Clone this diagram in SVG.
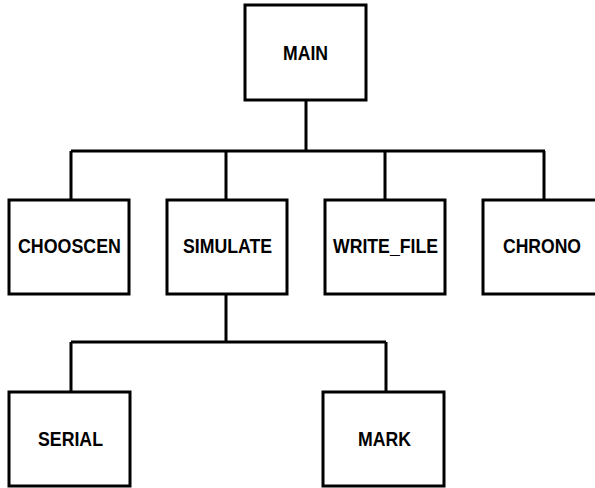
<svg xmlns="http://www.w3.org/2000/svg" width="595" height="488" viewBox="0 0 595 488">
<style>
rect{fill:#fff;stroke:#000;stroke-width:3}
.c path{fill:none;stroke:#000;stroke-width:3}
text{font-family:"Liberation Sans",Arial,sans-serif;font-weight:bold;font-size:21px;text-anchor:middle;fill:#000}
</style>
<rect x="0" y="0" width="595" height="488" style="stroke:none"/>
<g class="c" id="connectors">
<path d="M306 100V151M71 151H545M71 151V200M226 151V200M385 151V200M544 151V200"/>
<path d="M226 294V342M71 342H386M71 342V392M386 342V392"/>
</g>
<g id="main"><rect x="245" y="5" width="121" height="95"/><text x="305.5" y="60" textLength="45" lengthAdjust="spacingAndGlyphs">MAIN</text></g>
<g id="choosen"><rect x="9" y="200" width="120" height="94"/><text x="69.5" y="253" textLength="103" lengthAdjust="spacingAndGlyphs">CHOOSCEN</text></g>
<g id="simulate"><rect x="167" y="200" width="120" height="94"/><text x="227.5" y="253" textLength="89" lengthAdjust="spacingAndGlyphs">SIMULATE</text></g>
<g id="write_file"><rect x="325" y="200" width="120" height="94"/><text x="385.5" y="253" textLength="105" lengthAdjust="spacingAndGlyphs">WRITE_FILE</text></g>
<g id="chrono"><rect x="483" y="200" width="120" height="94"/><text x="542" y="253" textLength="78" lengthAdjust="spacingAndGlyphs">CHRONO</text></g>
<g id="serial"><rect x="9" y="392" width="121" height="94"/><text x="70.5" y="446" textLength="65" lengthAdjust="spacingAndGlyphs">SERIAL</text></g>
<g id="mark"><rect x="323" y="392" width="121" height="94"/><text x="384.5" y="446" textLength="53" lengthAdjust="spacingAndGlyphs">MARK</text></g>
</svg>
